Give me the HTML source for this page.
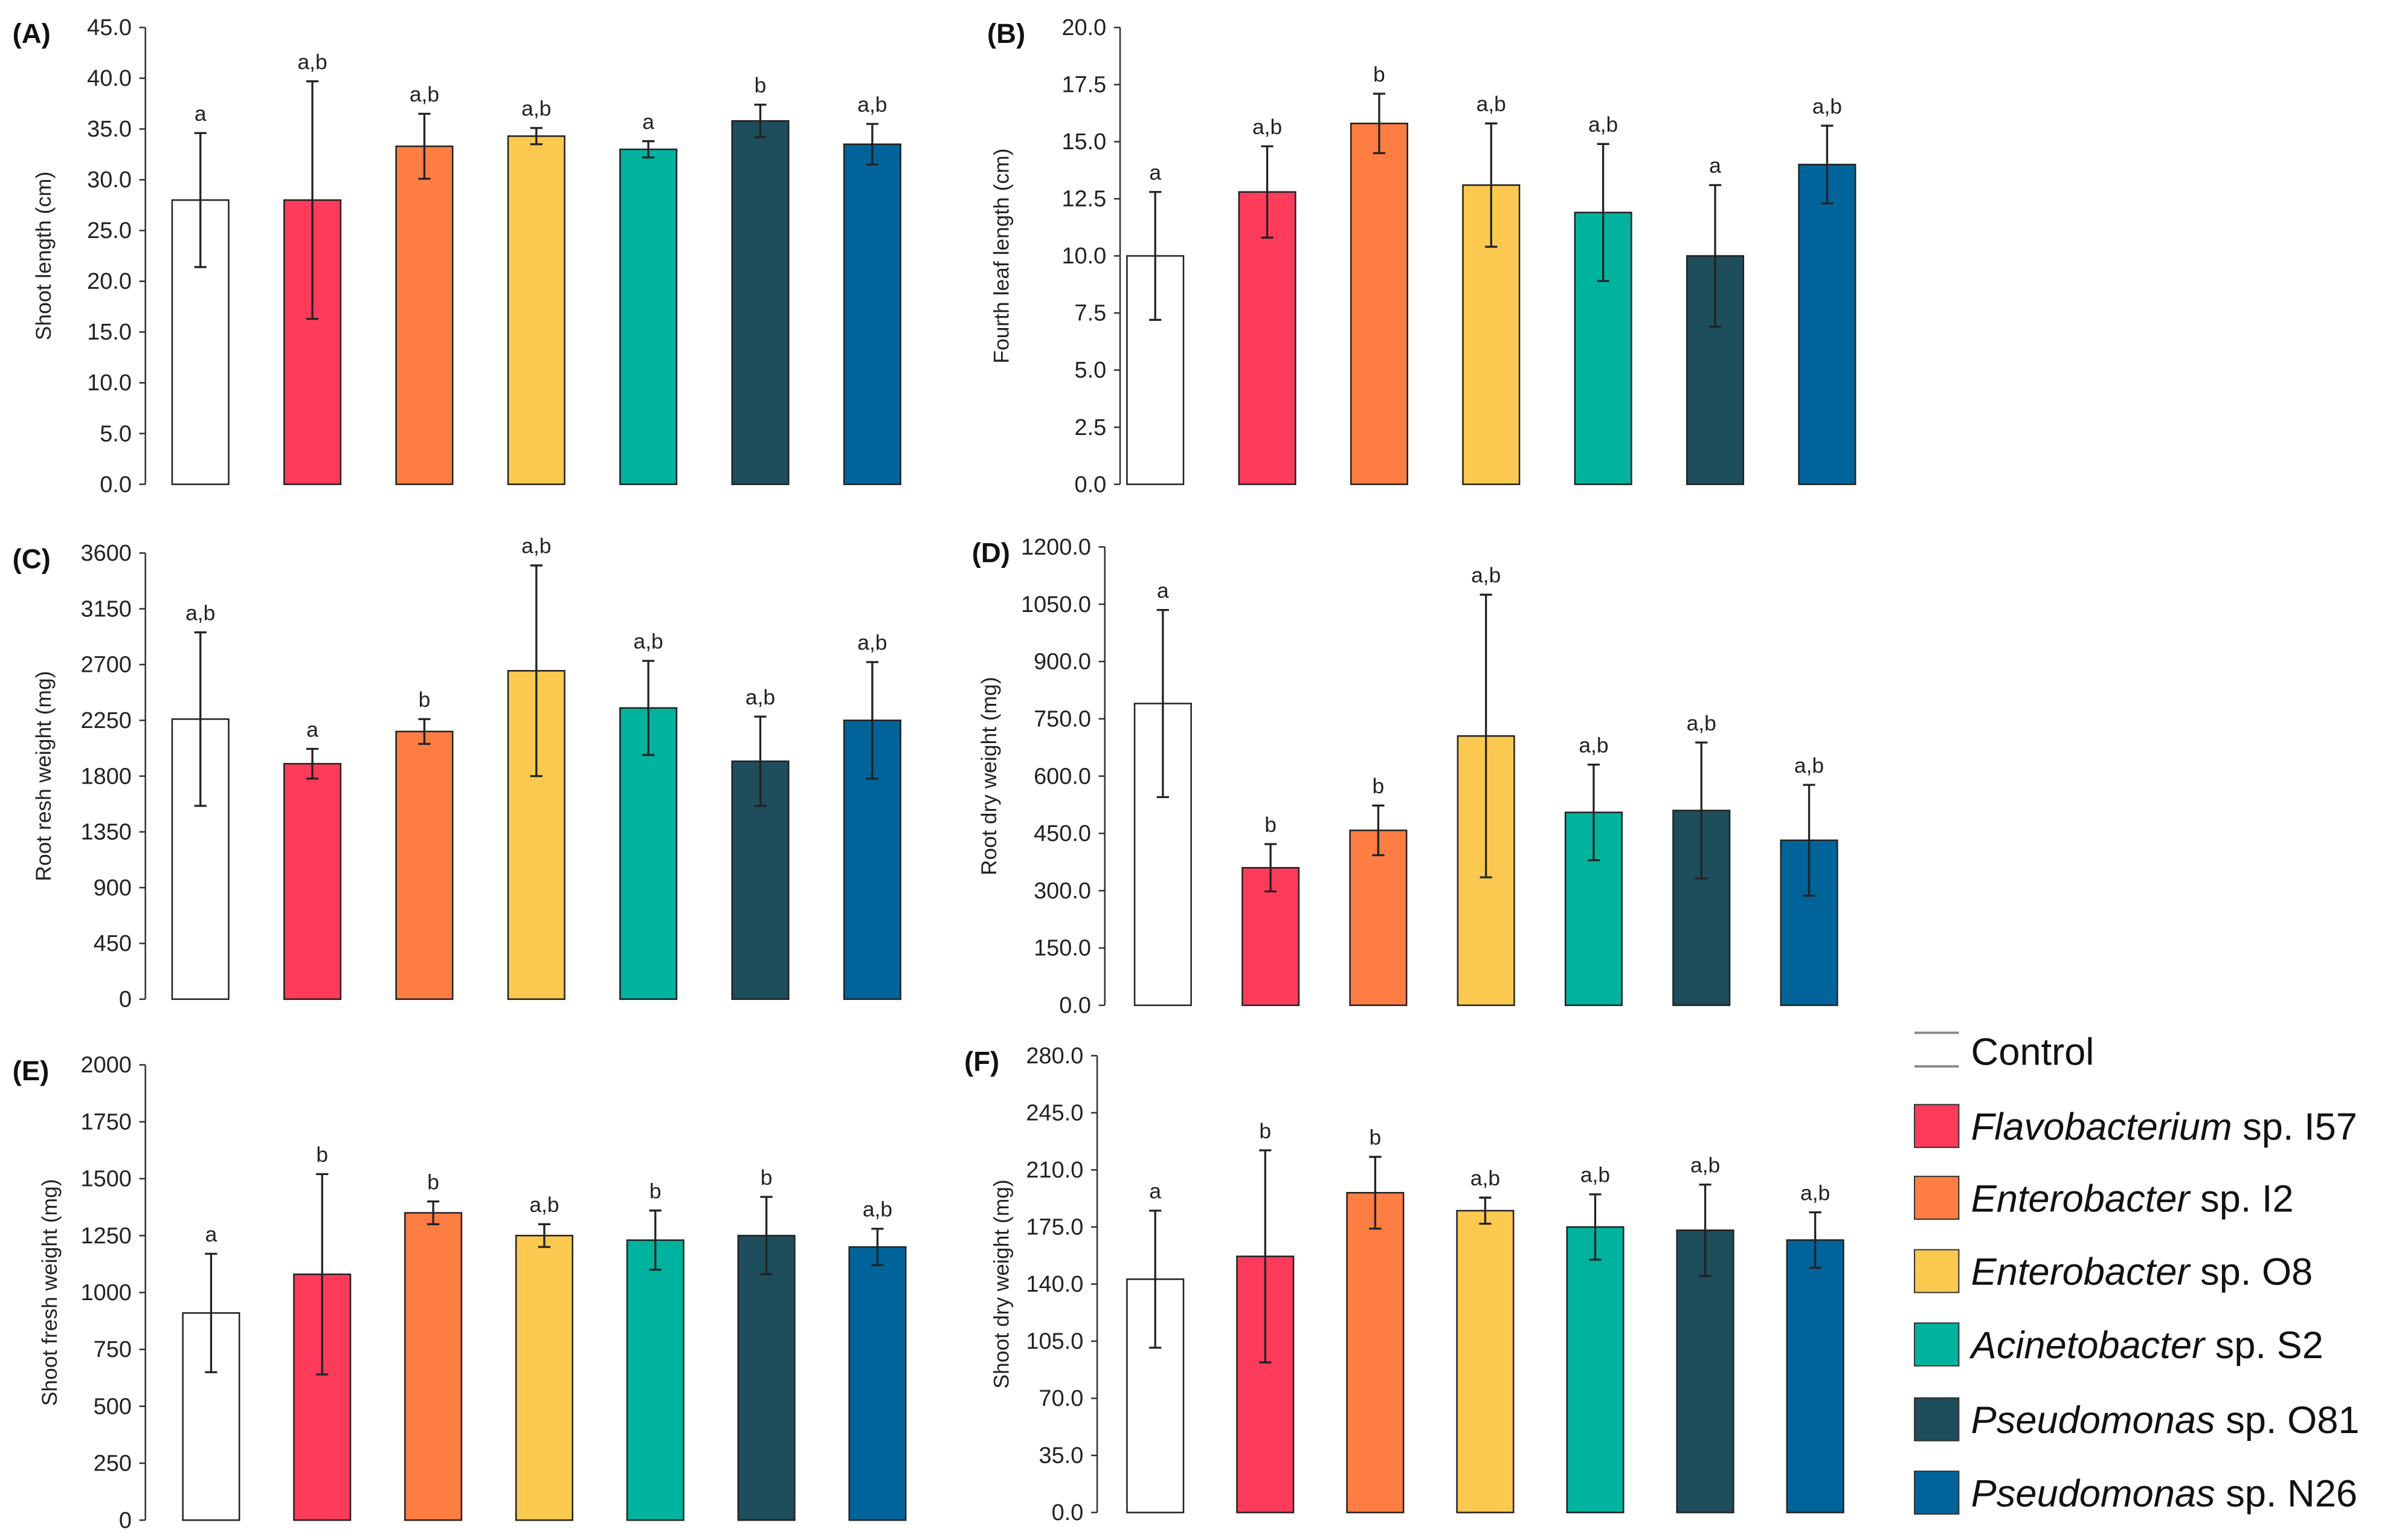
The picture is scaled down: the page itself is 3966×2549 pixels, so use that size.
<!DOCTYPE html>
<html><head><meta charset="utf-8">
<style>
html,body{margin:0;padding:0;background:#fff;}
svg{display:block;font-family:"Liberation Sans",Arial,sans-serif;}
</style></head>
<body>
<svg id="chart" width="3966" height="2549" viewBox="0 0 1568 1008" xmlns="http://www.w3.org/2000/svg"></svg>
<script>
const categories = ["Control","Flavobacterium sp. I57","Enterobacter sp. I2","Enterobacter sp. O8","Acinetobacter sp. S2","Pseudomonas sp. O81","Pseudomonas sp. N26"];
const colors = ["#ffffff","#ff3b5c","#fd7d43","#fbc94f","#00b39f","#1e4d5c","#00649a"];

const aMeans = [28.0, 28.0, 33.3, 34.3, 33.0, 35.8, 33.5];
const aErr = [6.6, 11.7, 3.2, 0.8, 0.8, 1.6, 2.0];
const aLetters = ["a","a,b","a,b","a,b","a","b","a,b"];
const aTicks = ["0.0","5.0","10.0","15.0","20.0","25.0","30.0","35.0","40.0","45.0"];

const bMeans = [10.0, 12.8, 15.8, 13.1, 11.9, 10.0, 14.0];
const bErr = [2.8, 2.0, 1.3, 2.7, 3.0, 3.1, 1.7];
const bLetters = ["a","a,b","b","a,b","a,b","a","a,b"];
const bTicks = ["0.0","2.5","5.0","7.5","10.0","12.5","15.0","17.5","20.0"];

const cMeans = [2260, 1900, 2160, 2650, 2350, 1920, 2250];
const cErr = [700, 120, 100, 850, 380, 360, 470];
const cLetters = ["a,b","a","b","a,b","a,b","a,b","a,b"];
const cTicks = ["0","450","900","1350","1800","2250","2700","3150","3600"];

const dMeans = [790, 360, 458, 705, 505, 510, 432];
const dErr = [245, 62, 65, 370, 125, 178, 145];
const dLetters = ["a","b","b","a,b","a,b","a,b","a,b"];
const dTicks = ["0.0","150.0","300.0","450.0","600.0","750.0","900.0","1050.0","1200.0"];

const eMeans = [910, 1080, 1350, 1250, 1230, 1250, 1200];
const eErr = [260, 440, 50, 50, 130, 170, 80];
const eLetters = ["a","b","b","a,b","b","b","a,b"];
const eTicks = ["0","250","500","750","1000","1250","1500","1750","2000"];

const fMeans = [143, 157, 196, 185, 175, 173, 167];
const fErr = [42, 65, 22, 8, 20, 28, 17];
const fLetters = ["a","b","b","a,b","a,b","a,b","a,b"];
const fTicks = ["0.0","35.0","70.0","105.0","140.0","175.0","210.0","245.0","280.0"];

const NS = "http://www.w3.org/2000/svg";
const svg = document.getElementById("chart");
function mk(tag, attrs, parent){
  const e = document.createElementNS(NS, tag);
  for (const k in attrs) e.setAttribute(k, attrs[k]);
  (parent||svg).appendChild(e);
  return e;
}

function panel(id, label, title, means, errs, letters, ticks, ax, yTop, yBot, x0, step, titleX){
  const g = mk("g", {});
  
  
  const maxV = parseFloat(ticks[ticks.length-1]);
  const y = v => yBot - (v / maxV) * (yBot - yTop);
  const xc = i => x0 + i * step;
  const axis = mk("line", {x1:ax, y1:yTop, x2:ax, y2:yBot, stroke:"#333", "stroke-width":1}, g);
  
  
  ticks.forEach((t) => {
    const v = parseFloat(t);
    const ty = y(v);
    mk("line", {x1:ax-4, y1:ty, x2:ax, y2:ty, stroke:"#333", "stroke-width":1}, g);
    const tx = mk("text", {x:ax-9, y:ty+5, "text-anchor":"end", "font-size":15, fill:"#222"}, g);
    tx.textContent = t;
    
    
  });
  const pl = mk("text", {x:ax-87 < 2 ? 8 : ax-87, y:yTop+10, "font-size":18, "font-weight":"bold", fill:"#111"}, g);
  pl.textContent = label;
  
  
  const cy = (yTop + yBot) / 2;
  const tt = mk("text", {x:titleX, y:cy, "text-anchor":"middle", "font-size":14, fill:"#222", transform:"rotate(-90 " + titleX + " " + cy + ")"}, g);
  tt.textContent = title;
  
  
  const bw = 37;
  means.forEach((m, i) => {
    const top = y(m);
    const r = mk("rect", {x:xc(i)-bw/2, y:top, width:bw, height:yBot-top, fill:colors[i], stroke:"#222", "stroke-width":1}, g);
    
    
    const hi = y(m + errs[i]), lo = y(m - errs[i]);
    const eg = mk("g", {stroke:"#222", "stroke-width":1.3}, g);
    
    
    mk("line", {x1:xc(i), y1:hi, x2:xc(i), y2:lo}, eg);
    mk("line", {x1:xc(i)-4, y1:hi, x2:xc(i)+4, y2:hi}, eg);
    mk("line", {x1:xc(i)-4, y1:lo, x2:xc(i)+4, y2:lo}, eg);
    const lt = mk("text", {x:xc(i), y:hi-8, "text-anchor":"middle", "font-size":14, fill:"#222"}, g);
    lt.textContent = letters[i];
    
    
  });
}

panel("a","(A)","Shoot length (cm)",aMeans,aErr,aLetters,aTicks,95,18,317,131,73.3,33);
panel("b","(B)","Fourth leaf length (cm)",bMeans,bErr,bLetters,bTicks,733,18,317,756,73.3,660);
panel("c","(C)","Root resh weight (mg)",cMeans,cErr,cLetters,cTicks,95,362,654,131,73.3,33);
panel("d","(D)","Root dry weight (mg)",dMeans,dErr,dLetters,dTicks,723,358,658,761,70.5,652);
panel("e","(E)","Shoot fresh weight (mg)",eMeans,eErr,eLetters,eTicks,95,697,995,138,72.7,37);
panel("f","(F)","Shoot dry weight (mg)",fMeans,fErr,fLetters,fTicks,718,691,990,756,72,660);

const legend = mk("g", {});


const legY = [688, 737, 784, 832, 880, 929, 977];
categories.forEach((c, i) => {
  const cy = legY[i];
  const row = mk("g", {}, legend);
  
  
  if (i === 0) {
    mk("line", {x1:1253, y1:cy-12, x2:1282, y2:cy-12, stroke:"#888", "stroke-width":1.5}, row);
    mk("line", {x1:1253, y1:cy+10, x2:1282, y2:cy+10, stroke:"#888", "stroke-width":1.5}, row);
  } else {
    mk("rect", {x:1253, y:cy-14, width:29, height:28, fill:colors[i], stroke:"#333", "stroke-width":0.8}, row);
  }
  const t = mk("text", {x:1290, y:cy+9, "font-size":25, fill:"#111"}, row);
  const parts = c.split(" sp. ");
  if (parts.length === 2) {
    const it = mk("tspan", {"font-style":"italic"}, t); it.textContent = parts[0];
    const rest = mk("tspan", {}, t); rest.textContent = " sp. " + parts[1];
  } else { t.textContent = c; }
});
</script>
</body></html>
